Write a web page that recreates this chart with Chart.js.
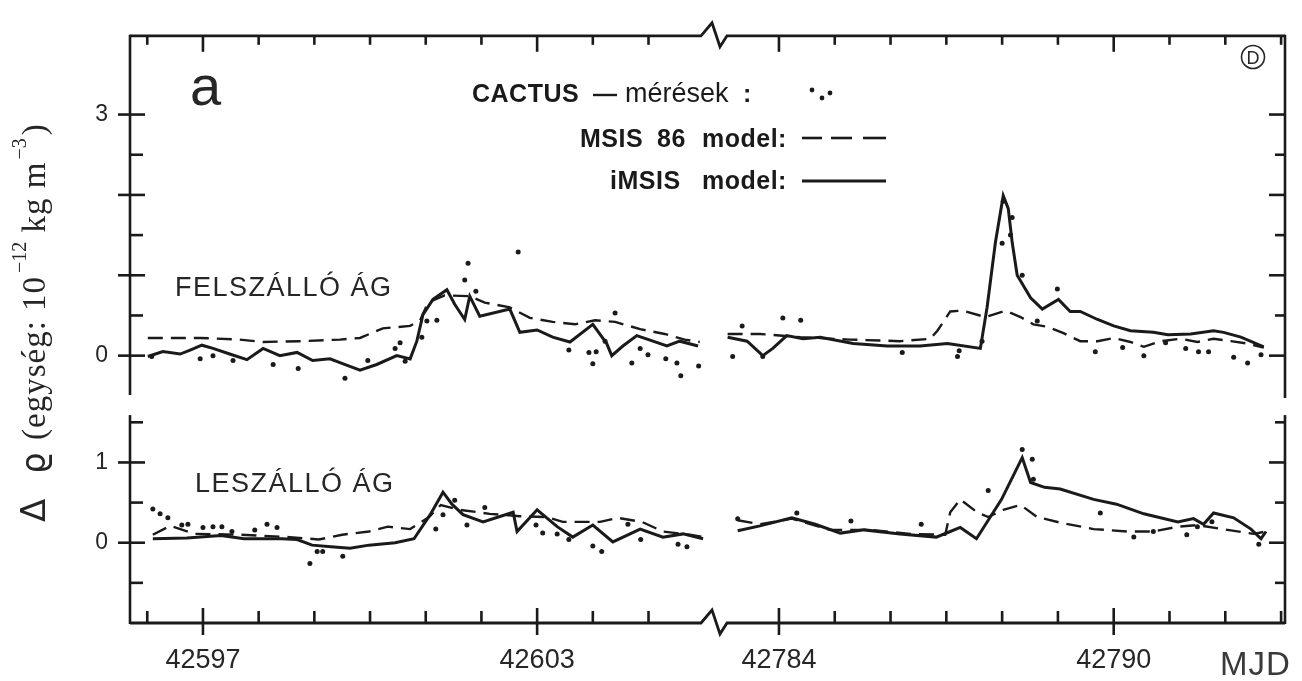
<!DOCTYPE html>
<html lang="hu">
<head>
<meta charset="utf-8">
<title>CACTUS sűrűségmérések és MSIS modellek</title>
<script src="https://cdn.jsdelivr.net/npm/chart.js@4.4.1/dist/chart.umd.min.js"></script>
<style>
  html, body { margin: 0; padding: 0; background: #fff; }
  #wrap { width: 1302px; height: 681px; position: relative; }
</style>
</head>
<body>
<div id="wrap"><canvas id="c"></canvas></div>
<script>
// ---- tick labels ------------------------------------------------------
const xTickLabels = [42597, 42603, 42784, 42790];   // MJD
const upperTickLabels = [0, 3];
const lowerTickLabels = [0, 1];

// ---- data: [MJD, delta rho in 1e-12 kg m^-3] --------------------------
// upper panel: ascending branch (FELSZÁLLÓ ÁG)
const upperCactusLeft = [
  [42596.08,-0.01],[42596.95,-0.04],[42597.18,0.00],[42597.54,-0.06],[42598.26,-0.11],
  [42598.71,-0.16],[42599.55,-0.28],[42599.96,-0.06],[42600.45,0.09],[42600.54,0.16],
  [42600.63,-0.07],[42600.93,0.23],[42601.02,0.43],[42601.20,0.44],[42601.70,0.94],
  [42601.76,1.15],[42601.90,0.80],[42602.66,1.29],[42603.57,0.07],[42603.93,0.04],
  [42604.06,0.05],[42604.00,-0.10],[42604.22,0.18],[42604.40,0.53],[42604.70,-0.09],
  [42604.85,0.09],[42604.99,0.01],[42605.31,-0.04],[42605.51,-0.09],[42605.58,-0.25],
  [42605.90,-0.13]
];
const upperMsisLeft = [
  [42596.01,0.22],[42596.95,0.22],[42597.66,0.20],[42598.08,0.17],[42598.74,0.18],
  [42599.46,0.20],[42599.82,0.22],[42600.23,0.34],[42600.72,0.37],[42600.90,0.44],
  [42601.04,0.66],[42601.34,0.75],[42601.79,0.74],[42602.06,0.66],[42602.51,0.60],
  [42602.87,0.47],[42603.28,0.42],[42603.68,0.39],[42604.04,0.44],[42604.40,0.42],
  [42604.85,0.33],[42605.29,0.27],[42605.65,0.20],[42605.92,0.17]
];
const upperImsisLeft = [
  [42596.01,-0.01],[42596.28,0.05],[42596.59,0.02],[42596.77,0.07],[42596.98,0.13],
  [42597.18,0.09],[42597.48,0.02],[42597.79,-0.05],[42598.08,0.09],[42598.38,0.00],
  [42598.69,0.04],[42598.97,-0.06],[42599.28,-0.04],[42599.59,-0.12],[42599.82,-0.18],
  [42600.12,-0.11],[42600.48,0.00],[42600.72,-0.04],[42600.84,0.18],[42600.95,0.51],
  [42601.13,0.70],[42601.38,0.82],[42601.52,0.64],[42601.70,0.45],[42601.79,0.74],
  [42601.97,0.49],[42602.51,0.58],[42602.69,0.29],[42603.00,0.32],[42603.28,0.23],
  [42603.59,0.17],[42604.00,0.39],[42604.25,0.15],[42604.34,0.00],[42604.54,0.12],
  [42604.79,0.25],[42605.08,0.18],[42605.33,0.12],[42605.56,0.18],[42605.89,0.12]
];
const upperCactusRight = [
  [42783.17,-0.01],[42783.34,0.37],[42783.71,-0.01],[42784.07,0.47],[42784.39,0.44],
  [42786.21,0.04],[42787.20,-0.01],[42787.23,0.06],[42787.64,0.18],[42788.00,1.40],
  [42788.02,1.92],[42788.15,1.50],[42788.18,1.72],[42788.36,1.00],[42788.63,0.43],
  [42788.99,0.83],[42789.67,0.05],[42790.16,0.10],[42790.54,0.00],[42790.93,0.16],
  [42791.29,0.09],[42791.52,0.05],[42791.70,0.05],[42792.15,-0.02],[42792.40,-0.09],
  [42792.64,0.01]
];
const upperMsisRight = [
  [42783.08,0.27],[42783.66,0.27],[42784.38,0.23],[42785.27,0.20],[42786.17,0.18],
  [42786.71,0.21],[42786.84,0.31],[42787.07,0.55],[42787.29,0.56],[42787.70,0.48],
  [42787.84,0.51],[42788.06,0.56],[42788.33,0.48],[42788.56,0.39],[42788.81,0.36],
  [42789.10,0.28],[42789.40,0.18],[42789.71,0.18],[42790.00,0.22],[42790.30,0.17],
  [42790.54,0.11],[42790.84,0.18],[42791.20,0.21],[42791.50,0.17],[42791.79,0.21],
  [42792.10,0.18],[42792.40,0.15],[42792.69,0.10]
];
const upperImsisRight = [
  [42783.08,0.23],[42783.43,0.18],[42783.71,0.00],[42783.89,0.09],[42784.14,0.25],
  [42784.43,0.21],[42784.74,0.23],[42785.33,0.15],[42785.94,0.12],[42786.53,0.12],
  [42787.02,0.15],[42787.61,0.09],[42787.73,0.60],[42787.88,1.41],[42788.02,1.99],
  [42788.11,1.83],[42788.18,1.41],[42788.27,1.00],[42788.51,0.72],[42788.72,0.58],
  [42789.01,0.70],[42789.22,0.55],[42789.40,0.55],[42789.71,0.45],[42790.00,0.37],
  [42790.30,0.31],[42790.71,0.29],[42790.97,0.26],[42791.38,0.27],[42791.79,0.31],
  [42791.97,0.29],[42792.28,0.23],[42792.69,0.11]
];

// lower panel: descending branch (LESZÁLLÓ ÁG)
const lowerCactusLeft = [
  [42596.10,0.42],[42596.23,0.36],[42596.37,0.31],[42596.62,0.22],[42596.73,0.23],
  [42597.00,0.19],[42597.18,0.20],[42597.34,0.20],[42597.52,0.14],[42597.93,0.16],
  [42598.15,0.23],[42598.33,0.19],[42598.92,-0.26],[42599.05,-0.11],[42599.15,-0.11],
  [42599.51,-0.17],[42601.18,0.17],[42601.31,0.35],[42601.52,0.53],[42601.74,0.22],
  [42602.06,0.44],[42602.98,0.22],[42603.10,0.12],[42603.36,0.11],[42603.57,0.04],
  [42604.00,-0.04],[42604.16,-0.11],[42604.63,0.23],[42604.86,0.04],[42605.53,-0.02],
  [42605.69,-0.05]
];
const lowerMsisLeft = [
  [42596.10,0.10],[42596.41,0.21],[42596.86,0.11],[42597.66,0.10],[42598.56,0.07],
  [42599.08,0.04],[42599.50,0.10],[42599.98,0.14],[42600.32,0.20],[42600.72,0.17],
  [42601.06,0.32],[42601.27,0.47],[42601.61,0.41],[42602.15,0.36],[42602.69,0.33],
  [42603.18,0.32],[42603.46,0.26],[42604.13,0.26],[42604.45,0.31],[42604.88,0.26],
  [42605.26,0.14],[42605.74,0.10],[42605.98,0.07]
];
const lowerImsisLeft = [
  [42596.10,0.05],[42596.71,0.06],[42597.32,0.09],[42597.74,0.05],[42598.42,0.05],
  [42598.69,0.04],[42598.96,-0.03],[42599.30,-0.05],[42599.64,-0.07],[42599.98,-0.03],
  [42600.45,0.00],[42600.79,0.05],[42601.08,0.35],[42601.31,0.63],[42601.47,0.48],
  [42601.67,0.35],[42602.03,0.26],[42602.57,0.38],[42602.64,0.14],[42603.00,0.41],
  [42603.36,0.20],[42603.64,0.07],[42604.00,0.22],[42604.36,0.01],[42604.85,0.17],
  [42605.26,0.07],[42605.62,0.11],[42605.98,0.05]
];
const lowerCactusRight = [
  [42783.26,0.30],[42784.32,0.37],[42785.29,0.27],[42786.55,0.23],[42787.75,0.65],
  [42788.36,1.16],[42788.54,1.04],[42788.56,0.79],[42789.76,0.37],[42790.36,0.07],
  [42790.71,0.14],[42791.31,0.10],[42791.50,0.20],[42791.76,0.26],[42792.60,-0.02]
];
const lowerMsisRight = [
  [42783.26,0.28],[42783.66,0.23],[42784.23,0.30],[42784.92,0.16],[42785.63,0.16],
  [42786.35,0.11],[42786.98,0.10],[42787.07,0.38],[42787.25,0.54],[42787.55,0.38],
  [42787.75,0.32],[42788.02,0.41],[42788.33,0.47],[42788.63,0.32],[42789.04,0.25],
  [42789.64,0.17],[42790.25,0.14],[42790.71,0.14],[42791.15,0.20],[42791.50,0.22],
  [42792.04,0.16],[42792.51,0.11],[42792.73,0.14]
];
const lowerImsisRight = [
  [42783.26,0.15],[42783.66,0.21],[42784.23,0.31],[42784.65,0.23],[42785.10,0.12],
  [42785.53,0.16],[42786.17,0.11],[42786.82,0.07],[42787.07,0.14],[42787.25,0.19],
  [42787.54,0.05],[42787.99,0.54],[42788.36,1.06],[42788.51,0.75],[42788.76,0.69],
  [42789.04,0.67],[42789.64,0.54],[42790.05,0.48],[42790.54,0.36],[42791.15,0.26],
  [42791.43,0.30],[42791.61,0.23],[42791.79,0.37],[42792.15,0.31],[42792.46,0.17],
  [42792.64,0.05],[42792.73,0.14]
];

// ---- styling -----------------------------------------------------------
const INK = '#1a1a1a';
const TEXT = '#262626';
const SANS = '"Liberation Sans", Arial, sans-serif';
const SERIF = '"Liberation Serif", "DejaVu Serif", serif';

function measured(points, xAxisID, yAxisID) {
  return { data: points, xAxisID, yAxisID, showLine: false,
    pointRadius: 2.5, pointBackgroundColor: INK, pointBorderWidth: 0 };
}
function msis(points, xAxisID, yAxisID) {
  return { data: points, xAxisID, yAxisID, showLine: true, pointRadius: 0,
    borderColor: INK, borderWidth: 2.4, borderDash: [15, 8], tension: 0 };
}
function imsis(points, xAxisID, yAxisID) {
  return { data: points, xAxisID, yAxisID, showLine: true, pointRadius: 0,
    borderColor: INK, borderWidth: 3, tension: 0 };
}

const datasets = [
  msis(upperMsisLeft, 'xL', 'yU'), imsis(upperImsisLeft, 'xL', 'yU'), measured(upperCactusLeft, 'xL', 'yU'),
  msis(upperMsisRight, 'xR', 'yU'), imsis(upperImsisRight, 'xR', 'yU'), measured(upperCactusRight, 'xR', 'yU'),
  msis(lowerMsisLeft, 'xL', 'yL'), imsis(lowerImsisLeft, 'xL', 'yL'), measured(lowerCactusLeft, 'xL', 'yL'),
  msis(lowerMsisRight, 'xR', 'yL'), imsis(lowerImsisRight, 'xR', 'yL'), measured(lowerCactusRight, 'xR', 'yL')
];

// two time segments side by side on the bottom edge, two panels stacked on the left
function timeScale(min, max, weight, stackWeight) {
  return {
    type: 'linear', axis: 'x', position: 'bottom', stack: 'time', weight, stackWeight, min, max,
    grid: { display: false, drawTicks: false }, border: { display: false },
    ticks: { padding: 21, color: TEXT, font: { family: SANS, size: 27 }, maxRotation: 0, autoSkip: false,
      callback: v => String(Math.round(v)) },
    afterBuildTicks: s => { s.ticks = xTickLabels.filter(v => v >= min && v <= max).map(value => ({ value })); },
    afterFit: s => { s.height = 58; }
  };
}
function valueScale(min, max, labels, weight, stackWeight) {
  return {
    type: 'linear', axis: 'y', position: 'left', stack: 'panels', weight, stackWeight, min, max,
    grid: { display: false, drawTicks: false }, border: { display: false },
    ticks: { padding: 22, color: TEXT, font: { family: SANS, size: 23 }, autoSkip: false,
      callback: v => String(v) },
    afterBuildTicks: s => { s.ticks = labels.map(value => ({ value })); },
    afterFit: s => { s.width = 130; }
  };
}

function line(ctx, x1, y1, x2, y2) {
  ctx.beginPath(); ctx.moveTo(x1, y1); ctx.lineTo(x2, y2); ctx.stroke();
}
function text(ctx, s, x, y, font, spacing) {
  ctx.font = font;
  ctx.letterSpacing = spacing || '0px';
  ctx.fillText(s, x, y);
  ctx.letterSpacing = '0px';
}

// frame with axis break, tick marks, legend and panel captions
const decor = {
  id: 'decor',
  afterDraw(chart) {
    const { ctx, chartArea: a } = chart;
    const { xL, xR, yU, yL } = chart.scales;
    ctx.save();
    ctx.strokeStyle = INK;
    ctx.fillStyle = INK;
    ctx.lineWidth = 2.8;
    ctx.lineJoin = 'miter';

    const bx = xL.right;
    const edge = y => {
      ctx.beginPath();
      ctx.moveTo(a.left, y); ctx.lineTo(bx - 11, y); ctx.lineTo(bx, y - 13);
      ctx.lineTo(bx + 8, y + 11); ctx.lineTo(bx + 15, y); ctx.lineTo(a.right, y);
      ctx.stroke();
    };
    edge(a.top); edge(a.bottom);

    const upperBottom = yU.bottom;
    const lowerTop = yL.getPixelForValue(1.59);
    ctx.lineWidth = 2.6;
    line(ctx, a.left, a.top - 1, a.left, upperBottom);
    line(ctx, a.right, a.top - 1, a.right, upperBottom + 3);
    line(ctx, a.left, lowerTop, a.left, a.bottom + 1);
    line(ctx, a.right, lowerTop, a.right, a.bottom + 1);

    // day ticks on top and bottom
    const dayTicks = (scale, from, to) => {
      for (let d = from; d <= to; d++) {
        const px = scale.getPixelForValue(d);
        const major = xTickLabels.includes(d);
        line(ctx, px, a.bottom + (major ? 12 : 0), px, a.bottom - (major ? 15 : 12));
        line(ctx, px, a.top, px, a.top + (major ? 16 : 9));
      }
    };
    dayTicks(xL, 42596, 42605);
    dayTicks(xR, 42784, 42793);

    // half-unit ticks on the left and right edges
    const valueTicks = (scale, from, to) => {
      for (let v = from; v <= to + 1e-9; v += 0.5) {
        const py = scale.getPixelForValue(v);
        const major = Math.abs(v - Math.round(v)) < 1e-9;
        line(ctx, a.left - (major ? 12 : 0), py, a.left + (major ? 15 : 13), py);
        line(ctx, a.right - (major ? 16 : 10), py, a.right, py);
      }
    };
    valueTicks(yU, 0, 3);
    valueTicks(yL, -0.5, 1.5);

    ctx.fillStyle = TEXT;
    ctx.textBaseline = 'alphabetic';
    ctx.textAlign = 'left';

    // panel letter
    text(ctx, 'a', 190, 105, '56px ' + SANS);

    // legend
    ctx.fillStyle = INK;
    text(ctx, 'CACTUS', 472, 102, 'bold 25px ' + SANS, '0.5px');
    ctx.lineWidth = 2.4;
    line(ctx, 593, 95, 617, 95);
    text(ctx, 'mérések', 625, 102, '27px ' + SANS);
    text(ctx, ':', 743, 102, 'bold 25px ' + SANS);
    [[812, 90], [822, 98], [830, 93]].forEach(([x, y]) => {
      ctx.beginPath(); ctx.arc(x, y, 2.4, 0, Math.PI * 2); ctx.fill();
    });

    text(ctx, 'MSIS', 580, 147, 'bold 25px ' + SANS, '0.5px');
    text(ctx, '86', 657, 147, 'bold 25px ' + SANS, '0.5px');
    text(ctx, 'model:', 702, 147, 'bold 25px ' + SANS, '0.5px');
    ctx.lineWidth = 2.6;
    line(ctx, 802, 138, 822, 138);
    line(ctx, 831, 138, 852, 138);
    line(ctx, 863, 138, 886, 138);

    text(ctx, 'iMSIS', 610, 189, 'bold 25px ' + SANS, '0.5px');
    text(ctx, 'model:', 702, 189, 'bold 25px ' + SANS, '0.5px');
    ctx.lineWidth = 3;
    line(ctx, 802, 181, 886, 181);

    // panel captions
    ctx.fillStyle = TEXT;
    text(ctx, 'FELSZÁLLÓ ÁG', 175, 296, '27px ' + SANS, '1.5px');
    text(ctx, 'LESZÁLLÓ ÁG', 195, 492, '27px ' + SANS, '1.5px');

    // unit of the time axis
    ctx.fillStyle = '#3a3a3a';
    text(ctx, 'MJD', 1220, 675, '33px ' + SANS, '1px');

    // circled D
    ctx.strokeStyle = TEXT;
    ctx.fillStyle = TEXT;
    ctx.lineWidth = 1.6;
    ctx.beginPath(); ctx.arc(1253, 57, 11.5, 0, Math.PI * 2); ctx.stroke();
    ctx.textAlign = 'center';
    text(ctx, 'D', 1253, 64, '18px ' + SANS);
    ctx.textAlign = 'left';

    // value axis title
    ctx.translate(45, 524);
    ctx.rotate(-Math.PI / 2);
    ctx.fillStyle = TEXT;
    text(ctx, 'Δ', 2, 0, '34px "DejaVu Sans", sans-serif');
    text(ctx, 'ϱ', 50, 0, '34px "DejaVu Sans", sans-serif');
    let t = 84;
    const put = (s, font, raise, spacing) => {
      ctx.font = font;
      ctx.letterSpacing = spacing || '0px';
      ctx.fillText(s, t, -raise);
      t += ctx.measureText(s).width;
      ctx.letterSpacing = '0px';
    };
    put('(egység: 10', '33px ' + SERIF, 0, '1px');
    t += 3;
    put('−12', '20px ' + SERIF, 19);
    put(' kg m', '33px ' + SERIF, 0, '1px');
    t += 2;
    put('−3', '20px ' + SERIF, 19);
    t += 3;
    put(')', '33px ' + SERIF, 0);

    ctx.restore();
  }
};

new Chart(document.getElementById('c'), {
  type: 'scatter',
  data: { datasets },
  options: {
    responsive: true,
    maintainAspectRatio: false,
    animation: false,
    events: [],
    layout: { padding: { top: 28, right: 17, left: 0, bottom: 0 } },
    plugins: { legend: { display: false }, tooltip: { enabled: false } },
    scales: {
      xL: timeScale(42595.69, 42606.14, 0, 582),
      xR: timeScale(42782.80, 42793.07, 1, 573),
      yU: valueScale(-0.49, 3.98, upperTickLabels, 1, 364),
      yL: valueScale(-1.0, 1.84, lowerTickLabels, 0, 231)
    }
  },
  plugins: [decor]
});
</script>
</body>
</html>
